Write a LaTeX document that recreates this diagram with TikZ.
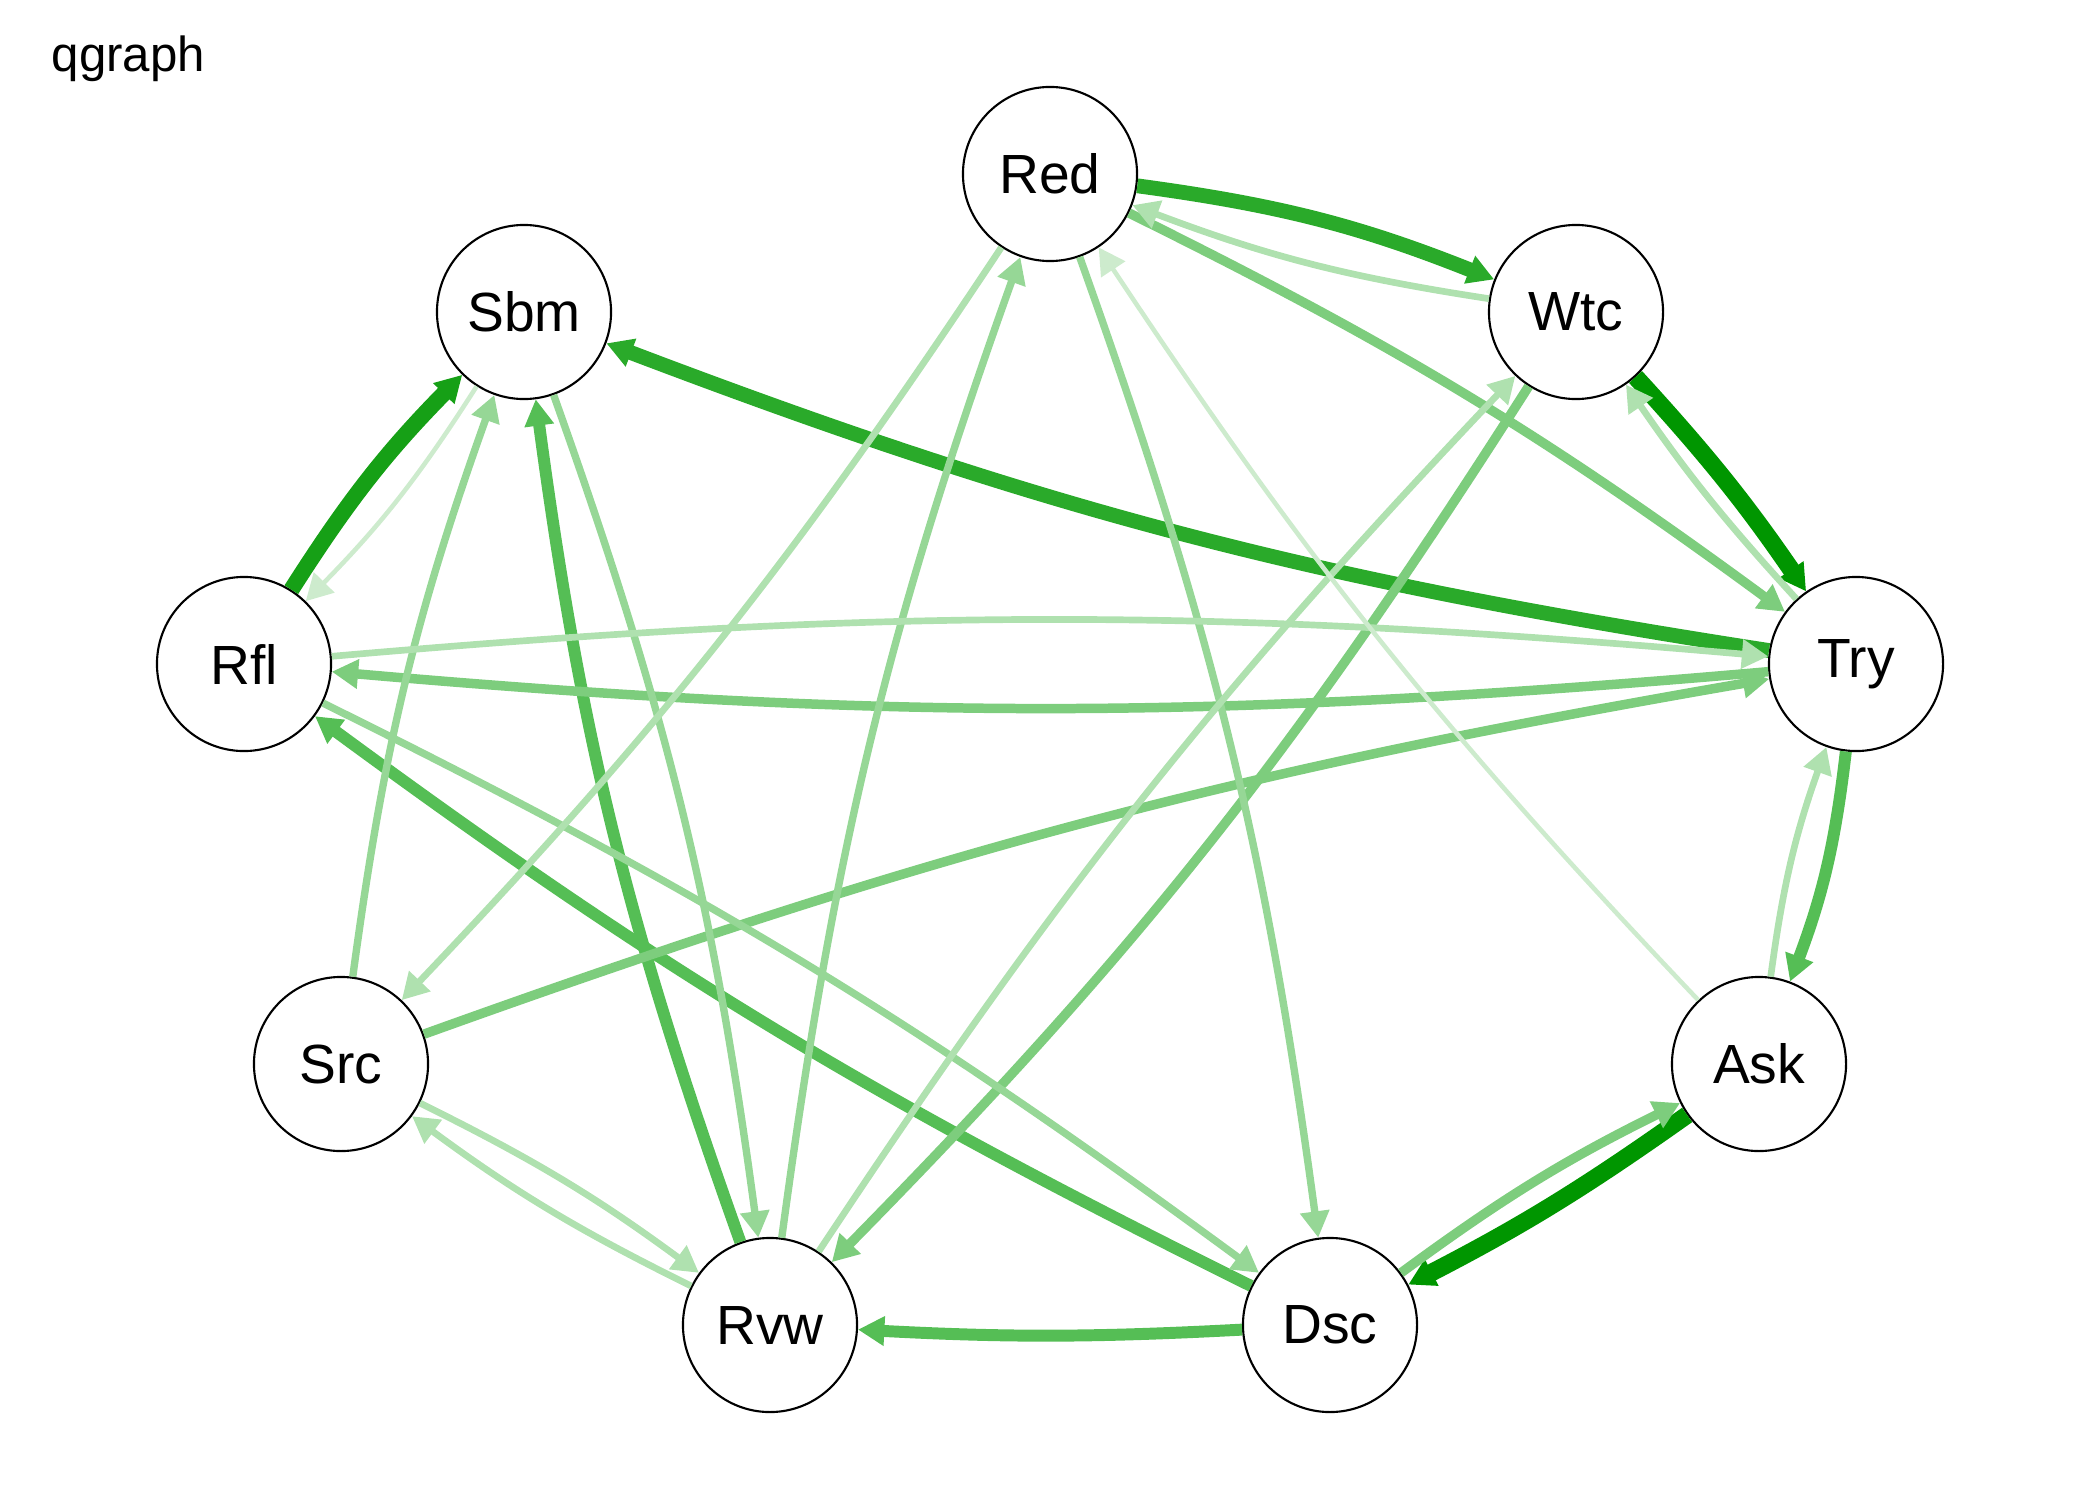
\documentclass[tikz,border=0pt]{standalone}
\usepackage{fontspec}
\setmainfont{Liberation Sans}
\usetikzlibrary{arrows.meta}
\definecolor{gA}{RGB}{0,150,0}
\definecolor{gB}{RGB}{22,160,22}
\definecolor{gC}{RGB}{42,170,42}
\definecolor{gD}{RGB}{85,190,85}
\definecolor{gE}{RGB}{125,205,125}
\definecolor{gF}{RGB}{150,215,150}
\definecolor{gG}{RGB}{175,225,175}
\definecolor{gH}{RGB}{205,235,205}
\tikzset{
>={Triangle[length=7.5pt,width=8pt]},
  knot/.style={
    circle,
    draw=black, line width=0.6pt,
    fill=white,
    minimum size=1.74cm,
    inner sep=0pt,
    font=\fontsize{15.7}{18}\selectfont},
  edgea/.style={draw=gA, line width=5pt, ->},
  edgeb/.style={draw=gB, line width=4.6pt, ->},
  edgec/.style={draw=gC, line width=4.2pt, ->},
  edged/.style={draw=gD, line width=3.4pt, ->},
  edgee/.style={draw=gE, line width=2.7pt, ->},
  edgef/.style={draw=gF, line width=2.1pt, ->},
  edgeg/.style={draw=gG, line width=1.9pt, ->},
  edgeh/.style={draw=gH, line width=1.3pt, ->},
}
\begin{document}
\begin{tikzpicture}[x=0.01cm, y=-0.01cm]
     \useasboundingbox (0,0) rectangle (2100,1500);
     \node[anchor=base west, inner sep=0pt, font=\fontsize{14}{16}\selectfont] (title) at (51,72) {qgraph};
     % nodes on the ellipse
     \node[knot] (Red) at (1050,174)  {Red};
     \node[knot] (Wtc) at (1576,312)  {Wtc};
     \node[knot] (Try) at (1856,664)  {Try};
     \node[knot] (Ask) at (1759,1064) {Ask};
     \node[knot] (Dsc) at (1330,1325) {Dsc};
     \node[knot] (Rvw) at (770,1325)  {Rvw};
     \node[knot] (Src) at (341,1064)  {Src};
     \node[knot] (Rfl) at (244,664)   {Rfl};
     \node[knot] (Sbm) at (524,312)   {Sbm};
     % edges
     \draw[edgea] (Wtc) to[bend left=4] (Try);
     \draw[edgea] (Ask) to[bend left=4] (Dsc);
     \draw[edgeb] (Rfl) to[bend left=6] (Sbm);
     \draw[edgec] (Red) to[bend left=7] (Wtc);
     \draw[edgec] (Try) to[bend left=6] (Sbm);
     \draw[edged] (Rvw) to[bend left=6] (Sbm);
     \draw[edged] (Dsc) to[bend left=3] (Rvw);
     \draw[edged] (Try) to[bend left=7] (Ask);
     \draw[edged] (Dsc) to[bend left=5] (Rfl);
     \draw[edgee] (Red) to[bend left=5] (Try);
     \draw[edgee] (Src) to[bend left=5] (Try);
     \draw[edgee] (Try) to[bend left=5] (Rfl);
     \draw[edgee] (Dsc) to[bend left=5] (Ask);
     \draw[edgee] (Wtc) to[bend left=6] (Rvw);
     \draw[edgef] (Rfl) to[bend left=5] (Dsc);
     \draw[edgef] (Red) to[bend left=6] (Dsc);
     \draw[edgef] (Rvw) to[bend left=6] (Red);
     \draw[edgef] (Src) to[bend left=6] (Sbm);
     \draw[edgef] (Sbm) to[bend left=6] (Rvw);
     \draw[edgeg] (Rfl) to[bend left=5] (Try);
     \draw[edgeg] (Wtc) to[bend left=6] (Red);
     \draw[edgeg] (Try) to[bend left=4] (Wtc);
     \draw[edgeg] (Ask) to[bend left=6] (Try);
     \draw[edgeg] (Src) to[bend left=5] (Rvw);
     \draw[edgeg] (Rvw) to[bend left=5] (Src);
     \draw[edgeg] (Red) to[bend left=5] (Src);
     \draw[edgeg] (Rvw) to[bend left=5] (Wtc);
     \draw[edgeh] (Sbm) to[bend left=6] (Rfl);
     \draw[edgeh] (Ask) to[bend left=5] (Red);
\end{tikzpicture}
\end{document}
